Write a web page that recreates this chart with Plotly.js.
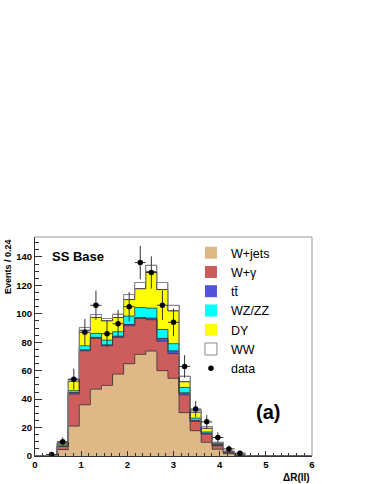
<!DOCTYPE html>
<html>
<head>
<meta charset="utf-8">
<script src="https://cdn.plot.ly/plotly-3.0.1.min.js"></script>
<style>html,body{margin:0;padding:0;background:#fff;}#chart{width:374px;height:484px;}</style>
</head>
<body>
<div id="chart"></div>
<script>
// bin lower edges (width 0.24) for ΔR(ll)
const binLow = [0,0.24,0.48,0.72,0.96,1.2,1.44,1.68,1.92,2.16,2.4,2.64,2.88,3.12,3.36,3.6,3.84,4.08,4.32,4.56,4.8,5.04,5.28,5.52,5.76];
const binWidth = 0.24;

const wjets = [0,0.3,4.5,21,36,47,49.6,57.6,64.9,71.4,73.8,60,54.6,30.5,17.8,9.6,4.7,1.6,0.5,0,0,0,0,0,0];
const wgamma = [0,0.1,2.2,22.5,38,35.7,27.9,25.8,26.7,25.3,22,20.8,17.4,12.5,6.5,5.8,2.5,1.0,0.3,0,0,0,0,0,0];
const ttbar = [0,0,0.4,1.2,0.7,0.7,0.7,0.9,0.9,0.7,1.2,1.9,2.0,1.5,0.8,0.7,0.4,0.2,0,0,0,0,0,0,0];
const wzzz = [0,0,0.8,1.3,2.8,2.8,3.3,3.1,5.9,7.0,7.0,6.3,5.0,3.7,1.5,0.8,0.5,0.2,0.1,0,0,0,0,0,0];
const dy = [0,0,1.2,6.7,11,11.2,13.5,10,11.6,13.2,25.5,28,23,4.0,4.3,2.6,1.0,0.3,0.1,0,0,0,0,0,0];
const ww = [0,0,0.7,1.3,1.9,2.1,1.7,2.4,3.6,4.4,4.7,5.0,4.0,4.0,1.4,1.1,0.6,0.2,0.2,0,0,0,0,0,0];
const dataCounts = [null,1,10,54,87,106,86,93,105,136,129,106,94,63,33,24,13,5,2,null,null,null,null,null,null];

const names = ['W+jets','W+\u03b3','tt\u0304','WZ/ZZ','DY','WW'];
const colors = ['#deb887','#cd5c5c','#5454d8','#00ffff','#ffff00','#ffffff'];
const series = [wjets, wgamma, ttbar, wzzz, dy, ww];

const centers = binLow.map(v => v + binWidth/2);
const edges = binLow.concat([binLow[binLow.length-1] + binWidth]);

const traces = [];
series.forEach((s, i) => {
  traces.push({
    type: 'bar', x: centers, y: s, width: binWidth, name: names[i],
    marker: {color: colors[i], line: {width: i === 5 ? 1 : 0, color: '#8a8a8a'}},
    hoverinfo: 'skip'
  });
});
// step outlines of cumulative stacks
let cum = new Array(binLow.length).fill(0);
series.forEach((s, i) => {
  cum = cum.map((c, k) => c + s[k]);
  const yy = cum.concat([cum[cum.length-1]]);
  traces.push({
    type: 'scatter', mode: 'lines', x: edges, y: yy, showlegend: false,
    line: {shape: 'hv', width: 1, color: i === 5 ? '#8a8a8a' : 'rgba(60,60,60,0.85)'},
    hoverinfo: 'skip'
  });
});
traces.push({
  type: 'scatter', mode: 'markers', name: 'data', x: centers, y: dataCounts,
  marker: {color: '#000', size: 5.5},
  error_y: {type: 'data', array: dataCounts.map(v => v == null ? null : Math.sqrt(v)), color: '#333', thickness: 1, width: 0},
  error_x: {type: 'constant', value: binWidth/2, color: '#333', thickness: 1, width: 0}
});

const font = 'Liberation Sans, Arial, Helvetica, sans-serif';
const layout = {
  width: 374, height: 484,
  margin: {l: 35, r: 62, t: 237, b: 28},
  paper_bgcolor: '#fff', plot_bgcolor: '#fff',
  barmode: 'stack', bargap: 0,
  showlegend: true,
  legend: {x: 0.563, y: 0.995, xanchor: 'left', yanchor: 'top', bgcolor: 'rgba(0,0,0,0)',
           font: {family: font, size: 12.5, color: '#000'}, traceorder: 'normal'},
  xaxis: {range: [0, 6], dtick: 1, tick0: 0, ticks: 'inside', ticklen: 5, tickcolor: '#333',
          minor: {dtick: 1/6, tick0: 0, ticks: 'inside', ticklen: 3, tickcolor: '#333', showgrid: false},
          showline: true, linecolor: '#333', linewidth: 1, showgrid: false, zeroline: false,
          tickfont: {family: font, size: 9.5, weight: 'bold', color: '#000'}},
  yaxis: {range: [0, 154], dtick: 20, tick0: 0, ticks: 'inside', ticklen: 7, tickcolor: '#333',
          minor: {dtick: 5, tick0: 0, ticks: 'inside', ticklen: 4, tickcolor: '#333', showgrid: false},
          showline: true, linecolor: '#333', linewidth: 1, showgrid: false, zeroline: false,
          tickfont: {family: font, size: 9.5, weight: 'bold', color: '#000'}},
  shapes: [
    {type: 'line', xref: 'paper', yref: 'paper', x0: 0, x1: 1, y0: 1, y1: 1, line: {color: '#999', width: 1}},
    {type: 'line', xref: 'paper', yref: 'paper', x0: 1, x1: 1, y0: 0, y1: 1, line: {color: '#999', width: 1}}
  ],
  annotations: [
    {text: 'Events / 0.24', textangle: -90, xref: 'paper', yref: 'paper', x: -0.099, y: 1,
     xanchor: 'center', yanchor: 'top', showarrow: false, font: {family: font, size: 9, weight: 'bold', color: '#000'}},
    {text: '\u0394R(ll)', xref: 'paper', yref: 'paper', x: 1, y: -0.096, xanchor: 'right', yanchor: 'middle',
     showarrow: false, font: {family: font, size: 10, weight: 'bold', color: '#000'}},
    {text: 'SS Base', xref: 'paper', yref: 'paper', x: 0.155, y: 0.909, xanchor: 'center', yanchor: 'middle',
     showarrow: false, font: {family: font, size: 13, weight: 'bold', color: '#000'}},
    {text: '(a)', xref: 'paper', yref: 'paper', x: 0.841, y: 0.201, xanchor: 'center', yanchor: 'middle',
     showarrow: false, font: {family: font, size: 20, weight: 'bold', color: '#000'}}
  ]
};
Plotly.newPlot('chart', traces, layout, {displayModeBar: false, staticPlot: true});
</script>
</body>
</html>
